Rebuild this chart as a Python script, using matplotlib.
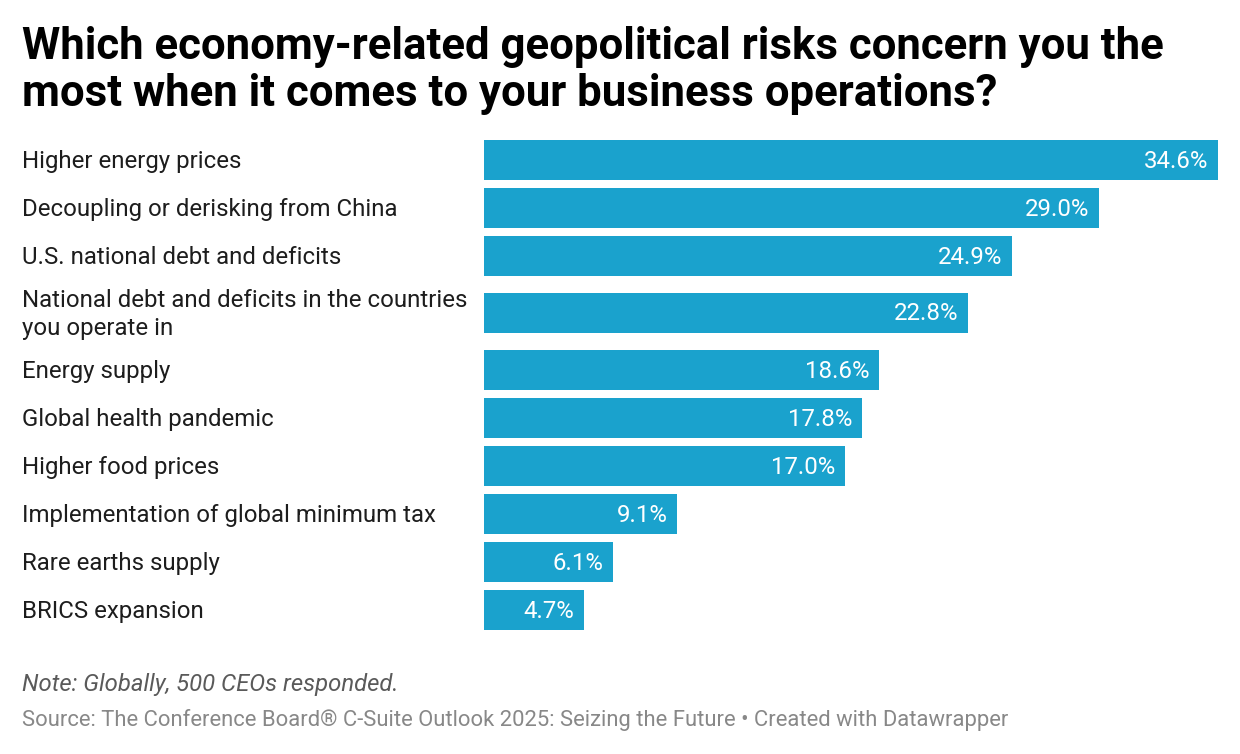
import matplotlib.pyplot as plt

plt.rcParams['font.family'] = ['Roboto', 'DejaVu Sans']

categories = [
    "Higher energy prices",
    "Decoupling or derisking from China",
    "U.S. national debt and deficits",
    "National debt and deficits in the countries\nyou operate in",
    "Energy supply",
    "Global health pandemic",
    "Higher food prices",
    "Implementation of global minimum tax",
    "Rare earths supply",
    "BRICS expansion",
]
values = [34.6, 29.0, 24.9, 22.8, 18.6, 17.8, 17.0, 9.1, 6.1, 4.7]

W, H = 1240, 754
fig = plt.figure(figsize=(W / 100, H / 100), dpi=100)

# layout in pixels
top, bottom = 140, 630
left, right = 484, 1218
row = 48
bar_h = 40

# bar centres, extra room for two-line labels
centers = []
y = top + bar_h / 2
for i, cat in enumerate(categories):
    extra = 9 if "\n" in cat else 0
    y += extra
    centers.append(y)
    y += row + extra

ax = fig.add_axes([left / W, 1 - bottom / H, (right - left) / W, (bottom - top) / H])
ax.barh(centers, values, height=bar_h, color="#1aa2cd")
ax.set_xlim(0, max(values))
ax.set_ylim(bottom, top)
ax.axis("off")

for c, v, cat in zip(centers, values, categories):
    ax.text(v - 0.45, c + 1, f"{v:.1f}%", color="white", fontsize=17.3,
            ha="right", va="center")
    fig.text(22 / W, 1 - (c + 1.5) / H, cat, fontsize=17.3, color="#1d1d1d",
             ha="left", va="center", linespacing=1.25)

fig.text(22 / W, 1 - 26 / H,
         "Which economy-related geopolitical risks concern you the\n"
         "most when it comes to your business operations?",
         fontsize=31.5, fontweight="bold", color="#000000",
         ha="left", va="top", linespacing=1.14)

fig.text(22 / W, 1 - 685 / H, "Note: Globally, 500 CEOs responded.",
         fontsize=17.2, style="italic", color="#5a5a5a", ha="left", va="center")
fig.text(22 / W, 1 - 720 / H,
         "Source: The Conference Board® C-Suite Outlook 2025: Seizing the Future • Created with Datawrapper",
         fontsize=15.85, color="#888888", ha="left", va="center")

fig.savefig("out.png", dpi=100)
